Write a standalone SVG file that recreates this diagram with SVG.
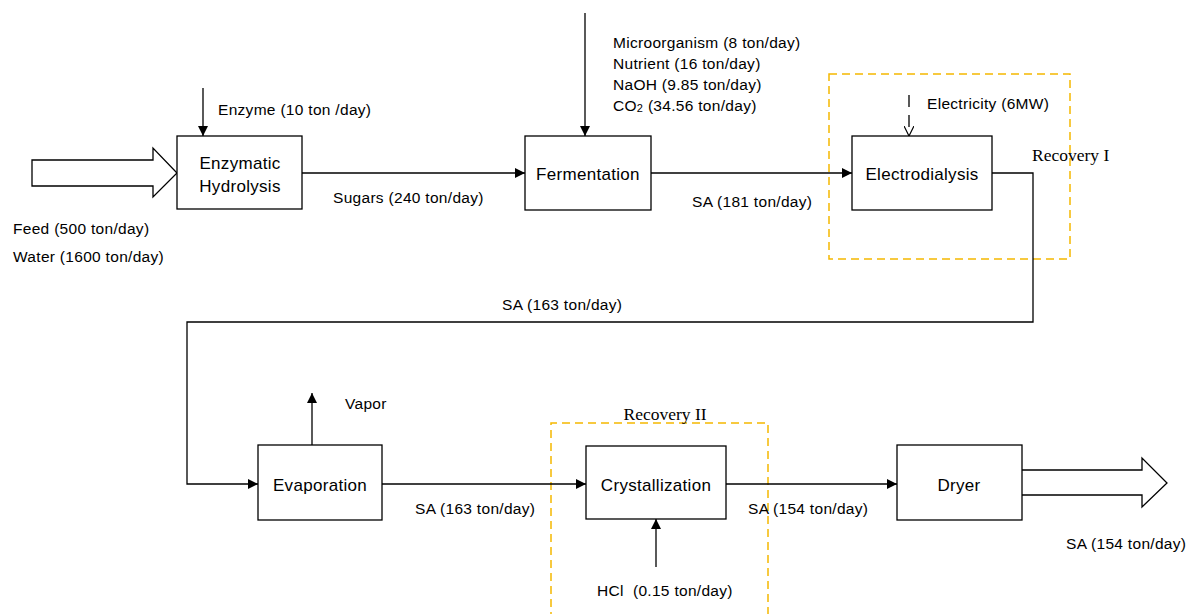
<svg xmlns="http://www.w3.org/2000/svg" width="1188" height="614" viewBox="0 0 1188 614">
  <style>
    .box { fill: #ffffff; stroke: #000000; stroke-width: 1.3; }
    .line { fill: none; stroke: #000000; stroke-width: 1.3; }
    .big { fill: #ffffff; stroke: #000000; stroke-width: 1.3; stroke-linejoin: miter; }
    .zone { fill: none; stroke: #F5B800; stroke-width: 1.5; stroke-dasharray: 8 5; }
    .lbl { font-family: "Liberation Sans", Arial, sans-serif; font-size: 15.5px; letter-spacing: 0.3px; fill: #000000; }
    .name { font-family: "Liberation Sans", Arial, sans-serif; font-size: 17px; letter-spacing: 0.3px; fill: #000000; text-anchor: middle; }
    .serif { font-family: "Liberation Serif", "Times New Roman", serif; font-size: 17.5px; fill: #000000; }
  </style>
  <defs>
    <marker id="arr" viewBox="0 0 10 10" refX="10" refY="5" markerWidth="10" markerHeight="10" markerUnits="userSpaceOnUse" orient="auto">
      <path d="M0,0 L10,5 L0,10 Z" fill="#000000"/>
    </marker>
    <marker id="open" viewBox="0 0 10 10" refX="10" refY="5" markerWidth="10" markerHeight="10" markerUnits="userSpaceOnUse" orient="auto">
      <path d="M0,0 L10,5 L0,10" fill="none" stroke="#000000" stroke-width="1.2"/>
    </marker>
  </defs>

  <!-- recovery zones -->
  <g id="recovery-1">
    <rect class="zone" x="829" y="74" width="241" height="185"/>
    <text class="serif" x="1032" y="161">Recovery I</text>
  </g>
  <g id="recovery-2">
    <path class="zone" d="M551,620 L551,423 L768,423 L768,620"/>
    <text class="serif" x="665" y="420" text-anchor="middle">Recovery II</text>
  </g>

  <!-- connectors -->
  <g id="connectors">
    <!-- feed block arrow -->
    <path class="big" d="M32,160 L153,160 L153,148 L177,173 L153,197 L153,186 L32,186 Z"/>
    <line class="line" x1="203" y1="88" x2="203" y2="136" marker-end="url(#arr)"/>
    <line class="line" x1="302" y1="173" x2="525" y2="173" marker-end="url(#arr)"/>
    <line class="line" x1="585" y1="13" x2="585" y2="136" marker-end="url(#arr)"/>
    <line class="line" x1="651" y1="173" x2="852" y2="173" marker-end="url(#arr)"/>
    <line class="line" x1="909" y1="95" x2="909" y2="136" stroke-dasharray="12 8" marker-end="url(#open)"/>
    <polyline class="line" points="992,173 1033,173 1033,322 187,322 187,484 258,484" marker-end="url(#arr)"/>
    <line class="line" x1="312" y1="445" x2="312" y2="393" marker-end="url(#arr)"/>
    <line class="line" x1="382" y1="484" x2="586" y2="484" marker-end="url(#arr)"/>
    <line class="line" x1="656" y1="567" x2="656" y2="519" marker-end="url(#arr)"/>
    <line class="line" x1="726" y1="484" x2="897" y2="484" marker-end="url(#arr)"/>
    <!-- product block arrow -->
    <path class="big" d="M1022,470 L1142,470 L1142,458 L1167,483 L1142,507 L1142,495 L1022,495"/>
  </g>

  <!-- stream labels -->
  <g id="labels">
    <text class="lbl" x="218" y="115">Enzyme (10 ton /day)</text>
    <text class="lbl" x="13" y="234">Feed (500 ton/day)</text>
    <text class="lbl" x="13" y="262">Water (1600 ton/day)</text>
    <text class="lbl" x="333" y="203">Sugars (240 ton/day)</text>
    <text class="lbl" x="613" y="48">Microorganism (8 ton/day)</text>
    <text class="lbl" x="613" y="69">Nutrient (16 ton/day)</text>
    <text class="lbl" x="613" y="90">NaOH (9.85 ton/day)</text>
    <text class="lbl" x="613" y="111">CO<tspan font-size="11" dy="1">2</tspan><tspan dy="-1"> (34.56 ton/day)</tspan></text>
    <text class="lbl" x="927" y="109">Electricity (6MW)</text>
    <text class="lbl" x="692" y="207">SA (181 ton/day)</text>
    <text class="lbl" x="502" y="310">SA (163 ton/day)</text>
    <text class="lbl" x="345" y="409">Vapor</text>
    <text class="lbl" x="415" y="514">SA (163 ton/day)</text>
    <text class="lbl" x="748" y="514">SA (154 ton/day)</text>
    <text class="lbl" x="597" y="596" style="white-space: pre">HCl  (0.15 ton/day)</text>
    <text class="lbl" x="1066" y="549">SA (154 ton/day)</text>
  </g>

  <!-- process units -->
  <g id="enzymatic-hydrolysis">
    <rect class="box" x="177" y="136" width="125" height="73"/>
    <text class="name" x="240" y="169">Enzymatic</text>
    <text class="name" x="240" y="192">Hydrolysis</text>
  </g>
  <g id="fermentation">
    <rect class="box" x="525" y="136" width="126" height="74"/>
    <text class="name" x="588" y="180">Fermentation</text>
  </g>
  <g id="electrodialysis">
    <rect class="box" x="852" y="136" width="140" height="74"/>
    <text class="name" x="922" y="180">Electrodialysis</text>
  </g>
  <g id="evaporation">
    <rect class="box" x="258" y="445" width="124" height="75"/>
    <text class="name" x="320" y="491">Evaporation</text>
  </g>
  <g id="crystallization">
    <rect class="box" x="586" y="446" width="140" height="73"/>
    <text class="name" x="656" y="491">Crystallization</text>
  </g>
  <g id="dryer">
    <rect class="box" x="897" y="445" width="125" height="75"/>
    <text class="name" x="959" y="491">Dryer</text>
  </g>
</svg>
